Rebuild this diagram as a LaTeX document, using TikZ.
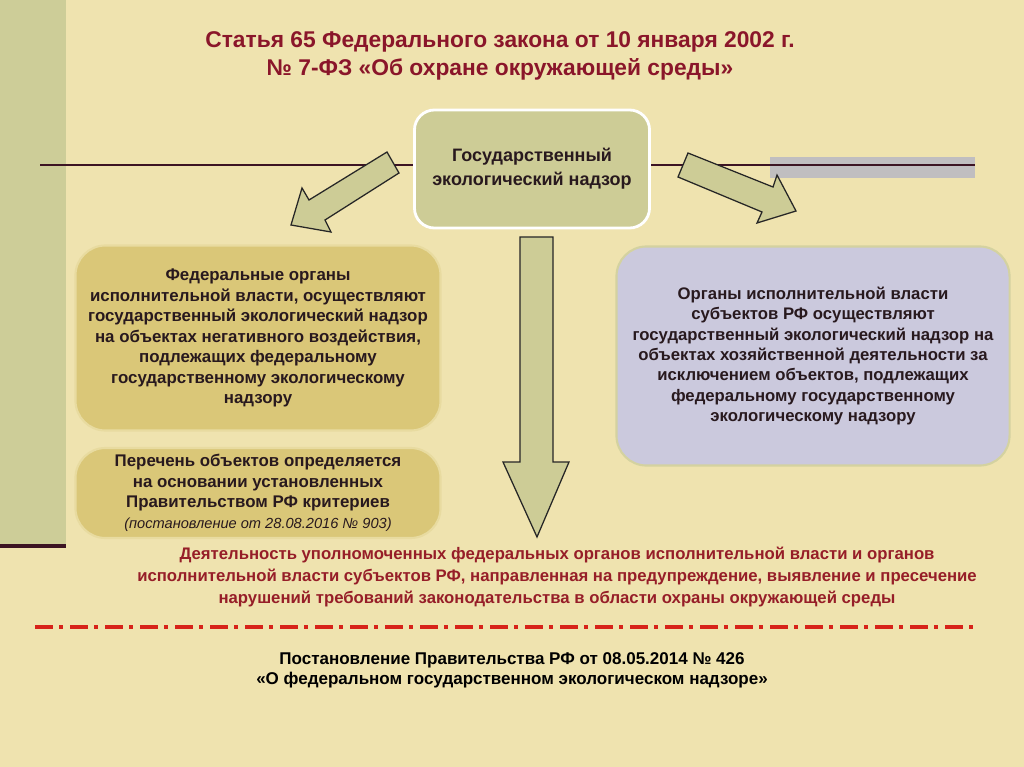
\documentclass[tikz,border=0pt]{standalone}
\usepackage{fontspec}
\setmainfont{Liberation Sans}
\definecolor{bgcream}{RGB}{239,227,175}
\definecolor{sidebar}{RGB}{205,205,152}
\definecolor{olive}{RGB}{205,204,150}
\definecolor{goldbox}{RGB}{218,199,120}
\definecolor{goldedge}{RGB}{232,219,160}
\definecolor{lavender}{RGB}{203,201,221}
\definecolor{lavedge}{RGB}{212,210,160}
\definecolor{darkline}{RGB}{60,20,35}
\definecolor{titlered}{RGB}{138,22,42}
\definecolor{textred}{RGB}{150,30,40}
\definecolor{dashred}{RGB}{215,35,25}
\definecolor{graybar}{RGB}{192,190,192}
\definecolor{boxtext}{RGB}{40,25,30}
\begin{document}
\begin{tikzpicture}[x=0.025cm, y=-0.025cm,
    every node/.style={align=center, inner sep=0pt},
    titletext/.style={text=titlered, font=\bfseries\fontsize{16.2}{20}\selectfont},
    centerbox/.style={fill=olive, draw=white, line width=2pt, rounded corners=0.5cm,
        minimum width=5.875cm, minimum height=2.95cm, text=boxtext,
        font=\bfseries\fontsize{12.8}{17}\selectfont},
    goldbox/.style={fill=goldbox, draw=goldedge, line width=1.5pt, rounded corners=0.75cm,
        minimum width=9.125cm, text=boxtext, font=\bfseries\fontsize{12}{14.6}\selectfont},
    lavbox/.style={fill=lavender, draw=lavedge, line width=1.5pt, rounded corners=0.75cm,
        minimum width=9.825cm, minimum height=5.475cm, text=boxtext,
        font=\bfseries\fontsize{11.9}{14.5}\selectfont},
    blockarrow/.style={fill=olive, draw=black!85, line width=0.9pt, line join=miter},
    redtext/.style={text=textred, font=\bfseries\fontsize{11.9}{15.3}\selectfont},
    decreetext/.style={text=black, font=\bfseries\fontsize{12.1}{14.2}\selectfont}]
\useasboundingbox (0,0) rectangle (1024,767);
\fill[bgcream] (0,0) rectangle (1024,767);
\fill[sidebar] (0,0) rectangle (66,548);
\draw[darkline, line width=2.8pt] (0,546) -- (66,546);
\fill[graybar] (770,157) rectangle (975,178);
\draw[darkline, line width=2pt] (40,165) -- (975,165);

% title
\node[titletext] (title) at (500,56) {Статья 65 Федерального закона от 10 января 2002 г.\\
    № 7-ФЗ «Об охране окружающей среды»};

% block arrows
\draw[blockarrow] (387,152) -- (399,173) -- (325,220) -- (331,232) -- (291,225)
    -- (302,188) -- (309,200) -- cycle;
\draw[blockarrow] (688,153) -- (678,177) -- (762,212) -- (757,223) -- (796,211)
    -- (777,175) -- (773,187) -- cycle;
\draw[blockarrow] (520,237) -- (553,237) -- (553,462) -- (569,462) -- (537,537)
    -- (503,462) -- (520,462) -- cycle;

\node[centerbox] (gen) at (532,169) {Государственный\\экологический надзор};

\node[goldbox, minimum height=4.625cm] (fed) at (258,338)
    {Федеральные органы\\
    исполнительной власти, осуществляют\\
    государственный экологический надзор\\
    на объектах негативного воздействия,\\
    подлежащих федеральному\\
    государственному экологическому\\
    надзору};
\node[goldbox, minimum height=2.25cm] (list) at (258,493)
    {Перечень объектов определяется\\
    на основании установленных\\
    Правительством РФ критериев\\
    {\mdseries\itshape\fontsize{10.4}{14.6}\selectfont (постановление от 28.08.2016 № 903)}};

\node[lavbox] (reg) at (813,356)
    {Органы исполнительной власти\\
    субъектов РФ осуществляют\\
    государственный экологический надзор на\\
    объектах хозяйственной деятельности за\\
    исключением объектов, подлежащих\\
    федеральному государственному\\
    экологическому надзору};

\node[redtext] (activity) at (557,577)
    {Деятельность уполномоченных федеральных органов исполнительной власти и органов\\
    исполнительной власти субъектов РФ, направленная на предупреждение, выявление и пресечение\\
    нарушений требований законодательства в области охраны окружающей среды};

\draw[dashred, line width=2.8pt, dash pattern=on 12.8pt off 4.3pt on 2.8pt off 5pt]
    (35,627) -- (980,627);

\node[decreetext] (decree) at (512,670)
    {Постановление Правительства РФ от 08.05.2014 № 426\\
    «О федеральном государственном экологическом надзоре»};
\end{tikzpicture}
\end{document}
